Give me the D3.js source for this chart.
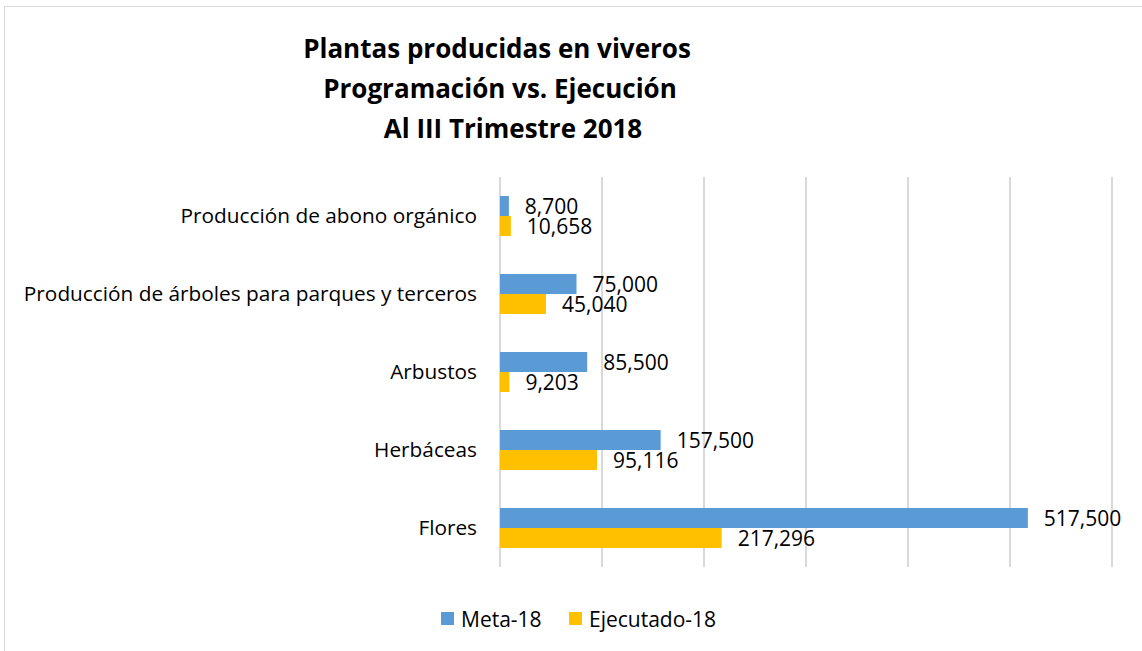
<!DOCTYPE html>
<html>
<head>
<meta charset="utf-8">
<title>Plantas producidas en viveros</title>
<script src="https://d3js.org/d3.v7.min.js"></script>
<style>
  body { margin: 0; background: #fff; }
  svg text { font-family: "Open Sans", "Noto Sans", sans-serif; fill: #000; }
</style>
</head>
<body>
<div id="chart"></div>
<script>
// data
const categories = ["Producción de abono orgánico", "Producción de árboles para parques y terceros", "Arbustos", "Herbáceas", "Flores"];
const meta18 = [8700, 75000, 85500, 157500, 517500];
const ejecutado18 = [10658, 45040, 9203, 95116, 217296];
const seriesNames = ["Meta-18", "Ejecutado-18"];
const seriesColors = ["#5b9bd5", "#ffc000"];
const titleLines = ["Plantas producidas en viveros", "Programación vs. Ejecución", "Al III Trimestre 2018"];

const W = 1142, H = 651;
const margin = {top: 177, right: 30, bottom: 84, left: 500};
const plotW = 1112 - margin.left, plotH = 567 - margin.top;

const svg = d3.select("#chart").append("svg")
  .attr("width", W).attr("height", H);

// chart frame
svg.append("rect")
  .attr("x", 4.5).attr("y", 6.5)
  .attr("width", W - 3).attr("height", H)
  .attr("fill", "#fff").attr("stroke", "#d9d9d9");

// title (lines are not quite centred on the same x in the original)
const titleX = [497, 500, 513];
svg.append("g").selectAll("text")
  .data(titleLines)
  .join("text")
    .attr("x", (d, i) => titleX[i])
    .attr("y", (d, i) => 58 + i * 40)
    .attr("text-anchor", "middle")
    .style("font-size", "26px")
    .style("font-weight", "bold")
    .text(d => d);

const g = svg.append("g").attr("transform", `translate(${margin.left},${margin.top})`);

const x = d3.scaleLinear().domain([0, 600000]).range([0, plotW]);
const y = d3.scaleBand().domain(categories).range([0, plotH]).paddingInner(0).paddingOuter(0);
const sub = d3.scaleBand().domain(seriesNames).range([y.bandwidth() / 2 - 20, y.bandwidth() / 2 + 20]);

// gridlines
g.append("g").selectAll("line")
  .data(x.ticks(6))
  .join("line")
    .attr("x1", d => x(d)).attr("x2", d => x(d))
    .attr("y1", 0).attr("y2", plotH)
    .attr("stroke", "#d9d9d9").attr("stroke-width", 2);

// category labels
g.append("g")
  .call(d3.axisLeft(y).tickSize(0).tickPadding(23))
  .call(a => a.select(".domain").remove())
  .selectAll("text")
    .style("font-size", "20.8px")
    .style("font-family", "'Open Sans', sans-serif");

const rows = categories.map((c, i) => ({cat: c, vals: [meta18[i], ejecutado18[i]]}));

const grp = g.append("g").selectAll("g")
  .data(rows)
  .join("g")
    .attr("transform", d => `translate(0,${y(d.cat)})`);

grp.selectAll("rect")
  .data(d => d.vals.map((v, j) => ({s: seriesNames[j], v: v, c: seriesColors[j]})))
  .join("rect")
    .attr("x", 0)
    .attr("y", d => sub(d.s))
    .attr("width", d => x(d.v))
    .attr("height", sub.bandwidth())
    .attr("fill", d => d.c);

grp.selectAll("text.val")
  .data(d => d.vals.map((v, j) => ({s: seriesNames[j], v: v})))
  .join("text")
    .attr("class", "val")
    .attr("x", d => x(d.v) + 16)
    .attr("y", d => sub(d.s) + sub.bandwidth() / 2)
    .attr("dy", "0.36em")
    .style("font-size", "21px")
    .text(d => d3.format(",")(d.v));

// legend
const legendX = [441, 569];
const leg = svg.append("g").selectAll("g")
  .data(seriesNames)
  .join("g")
    .attr("transform", (d, i) => `translate(${legendX[i]},612)`);
leg.append("rect")
  .attr("width", 13).attr("height", 13)
  .attr("fill", (d, i) => seriesColors[i]);
leg.append("text")
  .attr("x", 20).attr("y", 7).attr("dy", "0.36em")
  .style("font-size", "21px")
  .text(d => d);
</script>
</body>
</html>
